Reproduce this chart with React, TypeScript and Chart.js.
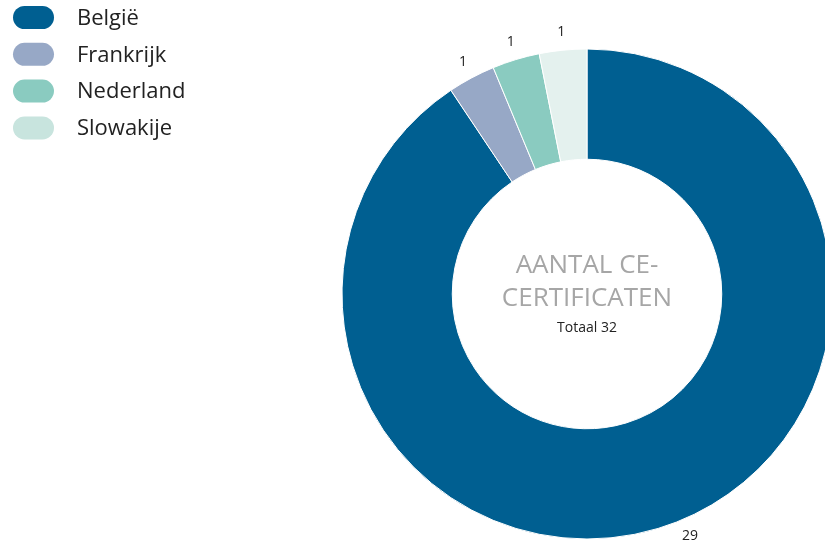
import React, { useEffect, useRef } from "react";
import { Chart, registerables } from "chart.js";

Chart.register(...registerables);

const categories = ["België", "Frankrijk", "Nederland", "Slowakije"];
const values = [29, 1, 1, 1];
const sliceColors = ["#005F91", "#97A8C6", "#8ACBC0", "#E4F1EE"];
const legendColors = ["#005F91", "#97A8C6", "#8ACBC0", "#C8E4DE"];
const centerTitle = ["AANTAL CE-", "CERTIFICATEN"];
const centerSub = "Totaal 32";

const FONT = "'Open Sans', 'Noto Sans', sans-serif";

const legendPlugin = {
  id: "customLegend",
  afterDraw(chart: any) {
    const ctx = chart.ctx;
    ctx.save();
    categories.forEach((name, i) => {
      const cy = 17.5 + i * 36.8;
      ctx.fillStyle = legendColors[i];
      ctx.beginPath();
      (ctx as any).roundRect(13, cy - 11.5, 41, 23, 11.5);
      ctx.fill();
      ctx.fillStyle = "#222222";
      ctx.font = `22px ${FONT}`;
      ctx.textAlign = "left";
      ctx.textBaseline = "middle";
      ctx.fillText(name, 77, cy + 1);
    });
    ctx.restore();
  },
};

const labelPlugin = {
  id: "outerLabels",
  afterDatasetsDraw(chart: any) {
    const ctx = chart.ctx;
    const meta = chart.getDatasetMeta(0);
    const h = chart.height;
    ctx.save();
    ctx.font = `14px ${FONT}`;
    ctx.fillStyle = "#222222";
    ctx.textAlign = "center";
    ctx.textBaseline = "middle";
    meta.data.forEach((arc: any, i: number) => {
      const p = arc.getProps(["x", "y", "startAngle", "endAngle", "outerRadius"], true);
      const mid = (p.startAngle + p.endAngle) / 2;
      const r = p.outerRadius + 18;
      let lx = p.x + Math.cos(mid) * r;
      let ly = p.y + Math.sin(mid) * r;
      if (ly > h - 6) {
        ly = h - 6;
        const dy = ly - p.y;
        lx = p.x + Math.sign(Math.cos(mid)) * Math.sqrt(Math.max(r * r - dy * dy, 0));
      }
      ctx.fillText(String(values[i]), lx, ly);
    });
    const a = meta.data[0];
    if (a) {
      const cx = a.x;
      const cy = a.y;
      ctx.fillStyle = "#A6A6A6";
      ctx.font = `26px ${FONT}`;
      ctx.fillText(centerTitle[0], cx, cy - 28);
      ctx.fillText(centerTitle[1], cx, cy + 5);
      ctx.fillStyle = "#222222";
      ctx.font = `14px ${FONT}`;
      ctx.fillText(centerSub, cx, cy + 34);
    }
    ctx.restore();
  },
};

export default function App() {
  const ref = useRef<HTMLCanvasElement | null>(null);
  useEffect(() => {
    if (!ref.current) return;
    const chart = new Chart(ref.current, {
      type: "doughnut",
      data: {
        labels: categories,
        datasets: [
          {
            data: values,
            backgroundColor: sliceColors,
            borderColor: "#ffffff",
            borderWidth: 1,
            hoverOffset: 0,
          },
        ],
      },
      options: {
        animation: false,
        responsive: false,
        radius: 245,
        cutout: "55%",
        layout: { padding: { left: 349, top: 46, right: 0, bottom: 0 } },
        plugins: {
          legend: { display: false },
          tooltip: { enabled: false },
        },
      } as any,
      plugins: [legendPlugin, labelPlugin],
    });
    return () => chart.destroy();
  }, []);
  return (
    <div style={{ position: "absolute", left: 0, top: 0, width: 825, height: 542, overflow: "hidden", background: "#fff" }}>
      <canvas ref={ref} width={825} height={542} style={{ display: "block" }} />
    </div>
  );
}
